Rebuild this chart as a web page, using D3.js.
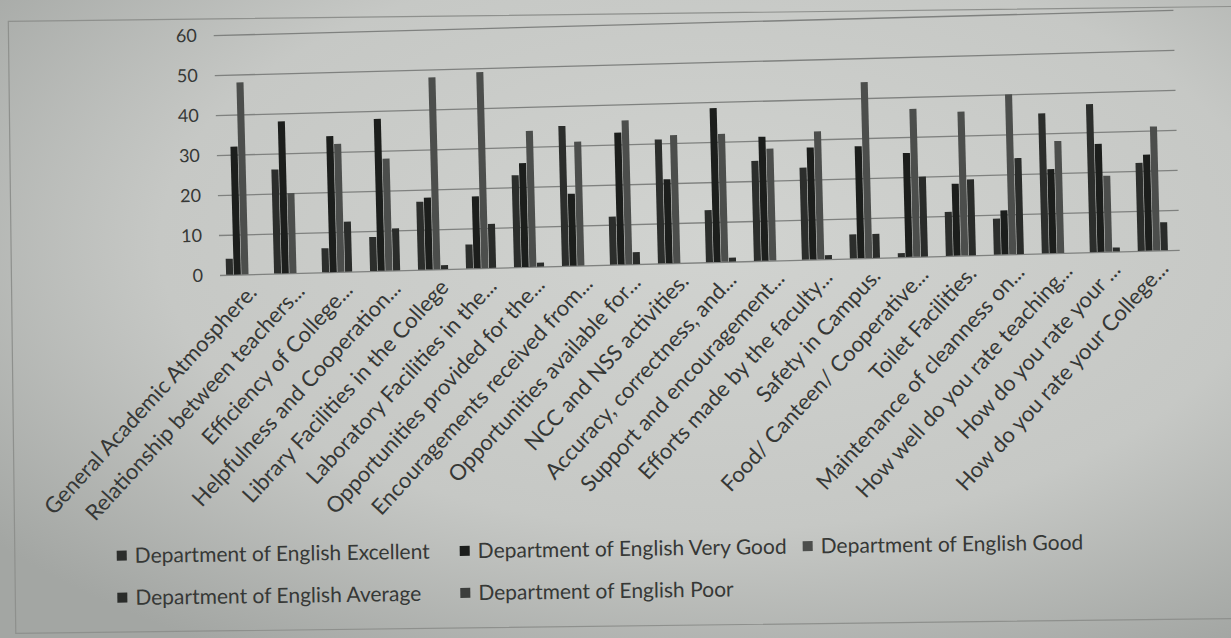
<!DOCTYPE html>
<html><head><meta charset="utf-8">
<script src="https://cdn.jsdelivr.net/npm/d3@7"></script>
<style>
html,body{margin:0;padding:0;background:#c6c8c5;}
text{font-family:Lato,"Open Sans",sans-serif;fill:#363836;}
</style></head>
<body>
<svg id="chart" width="1231" height="638"></svg>
<script>
const categories = [
  "General Academic Atmosphere.",
  "Relationship between teachers...",
  "Efficiency of College...",
  "Helpfulness and Cooperation...",
  "Library Facilities in the College",
  "Laboratory Facilities in the...",
  "Opportunities provided for the...",
  "Encouragements received from...",
  "Opportunities available for...",
  "NCC and NSS activities.",
  "Accuracy, correctness, and...",
  "Support and encouragement...",
  "Efforts made by the faculty...",
  "Safety in Campus.",
  "Food/ Canteen/ Cooperative...",
  "Toilet Facilities.",
  "Maintenance of cleanness on...",
  "How well do you rate teaching...",
  "How do you rate your ...",
  "How do you rate your College..."
];
const seriesNames = [
  "Department of English Excellent",
  "Department of English Very Good",
  "Department of English Good",
  "Department of English Average",
  "Department of English Poor"
];
const excellent = [4, 26, 6, 8.5, 17, 6, 23, 35, 12, 31, 13, 25, 23, 6, 1, 11, 9, 35, 37, 22];
const veryGood  = [32, 38, 34, 38, 18, 18, 26, 18, 33, 21, 38.5, 31, 28, 28, 26, 18, 11, 21, 27, 24];
const good      = [48, 20, 32, 28, 48, 49, 34, 31, 36, 32, 32, 28, 32, 44, 37, 36, 40, 28, 19, 31];
const average   = [0, 0, 12.5, 10.5, 1, 11, 1, 0, 3, 0, 1, 0, 1, 6, 20, 19, 24, 0, 1, 7];
const poor      = [0, 0, 0, 0, 0, 0, 0, 0, 0, 0, 0, 0, 0, 0, 0, 0, 0, 0, 0, 0];
const yTicks = [0, 10, 20, 30, 40, 50, 60];

const seriesValues = [excellent, veryGood, good, average, poor];
const seriesColors = ["#2c2e2c", "#1c1e1c", "#4c4e4c", "#2a2c2a", "#3c3e3c"];

const svg = d3.select("#chart");
const defs = svg.append("defs");
const grad = defs.append("radialGradient").attr("id","bg")
  .attr("cx","0.58").attr("cy","0.38").attr("r","0.75");
grad.append("stop").attr("offset","0").attr("stop-color","#d1d3d0");
grad.append("stop").attr("offset","0.6").attr("stop-color","#c6c8c5");
grad.append("stop").attr("offset","1").attr("stop-color","#a3a6a3");
svg.append("rect").attr("width",1231).attr("height",638).attr("fill","url(#bg)");

// chart frame
svg.append("rect").attr("x",12).attr("y",14).attr("width",1260).attr("height",612)
  .attr("fill","none").attr("stroke","#8e908d").attr("stroke-width",1.2)
  .attr("transform","rotate(-0.7,620,320)");

const g = svg.append("g").attr("transform","rotate(-1.5,220,275)");

const y = d3.scaleLinear().domain([0,60]).range([275,35]);
const x0 = d3.scaleBand().domain(categories).range([221,1181]).paddingInner(0.2).paddingOuter(0.1);
const x1 = d3.scaleBand().domain(seriesNames).range([0, x0.bandwidth()]);

const yAxis = g.append("g").attr("transform","translate(220,0)")
  .call(d3.axisLeft(y).tickValues(yTicks).tickSize(-960).tickPadding(17).tickFormat(d3.format("d")));
yAxis.select(".domain").remove();
yAxis.selectAll(".tick line").attr("stroke","#7f817f").attr("stroke-width",1.3);
yAxis.selectAll(".tick text").style("font-size","18px").style("font-family","Lato").attr("fill","#363836");

const groups = g.selectAll("g.grp").data(categories).join("g").attr("class","grp")
  .attr("transform", c => `translate(${x0(c)},0)`);
groups.selectAll("rect").data((c,i) => seriesNames.map((s,k) => ({s, k, v: seriesValues[k][i]})))
  .join("rect")
  .attr("x", d => x1(d.s) + 0.3)
  .attr("width", x1.bandwidth() - 0.6)
  .attr("y", d => y(d.v))
  .attr("height", d => y(0) - y(d.v))
  .attr("fill", d => seriesColors[d.k]);

const xAxis = g.append("g").attr("transform","translate(7,289)")
  .call(d3.axisBottom(x0).tickSize(0).tickPadding(0));
xAxis.select(".domain").remove();
xAxis.selectAll(".tick text")
  .attr("y",0).attr("dy","0.35em").attr("x",0)
  .attr("text-anchor","end")
  .attr("transform","rotate(-46)")
  .style("font-size","22px").style("font-family","Lato").attr("fill","#3a3c3a");

const legend = svg.append("g").attr("transform","rotate(-0.8,600,570)");
const items = legend.selectAll("g").data(seriesNames).join("g")
  .attr("transform",(d,i) => `translate(${122 + (i%3)*343},${549 + Math.floor(i/3)*42})`);
items.append("rect").attr("x",-5).attr("y",-5).attr("width",10).attr("height",10)
  .attr("fill",(d,i) => seriesColors[i]);
items.append("text").attr("x",13).attr("dy","0.35em").text(d => d)
  .style("font-size","21px");
</script>
</body></html>
